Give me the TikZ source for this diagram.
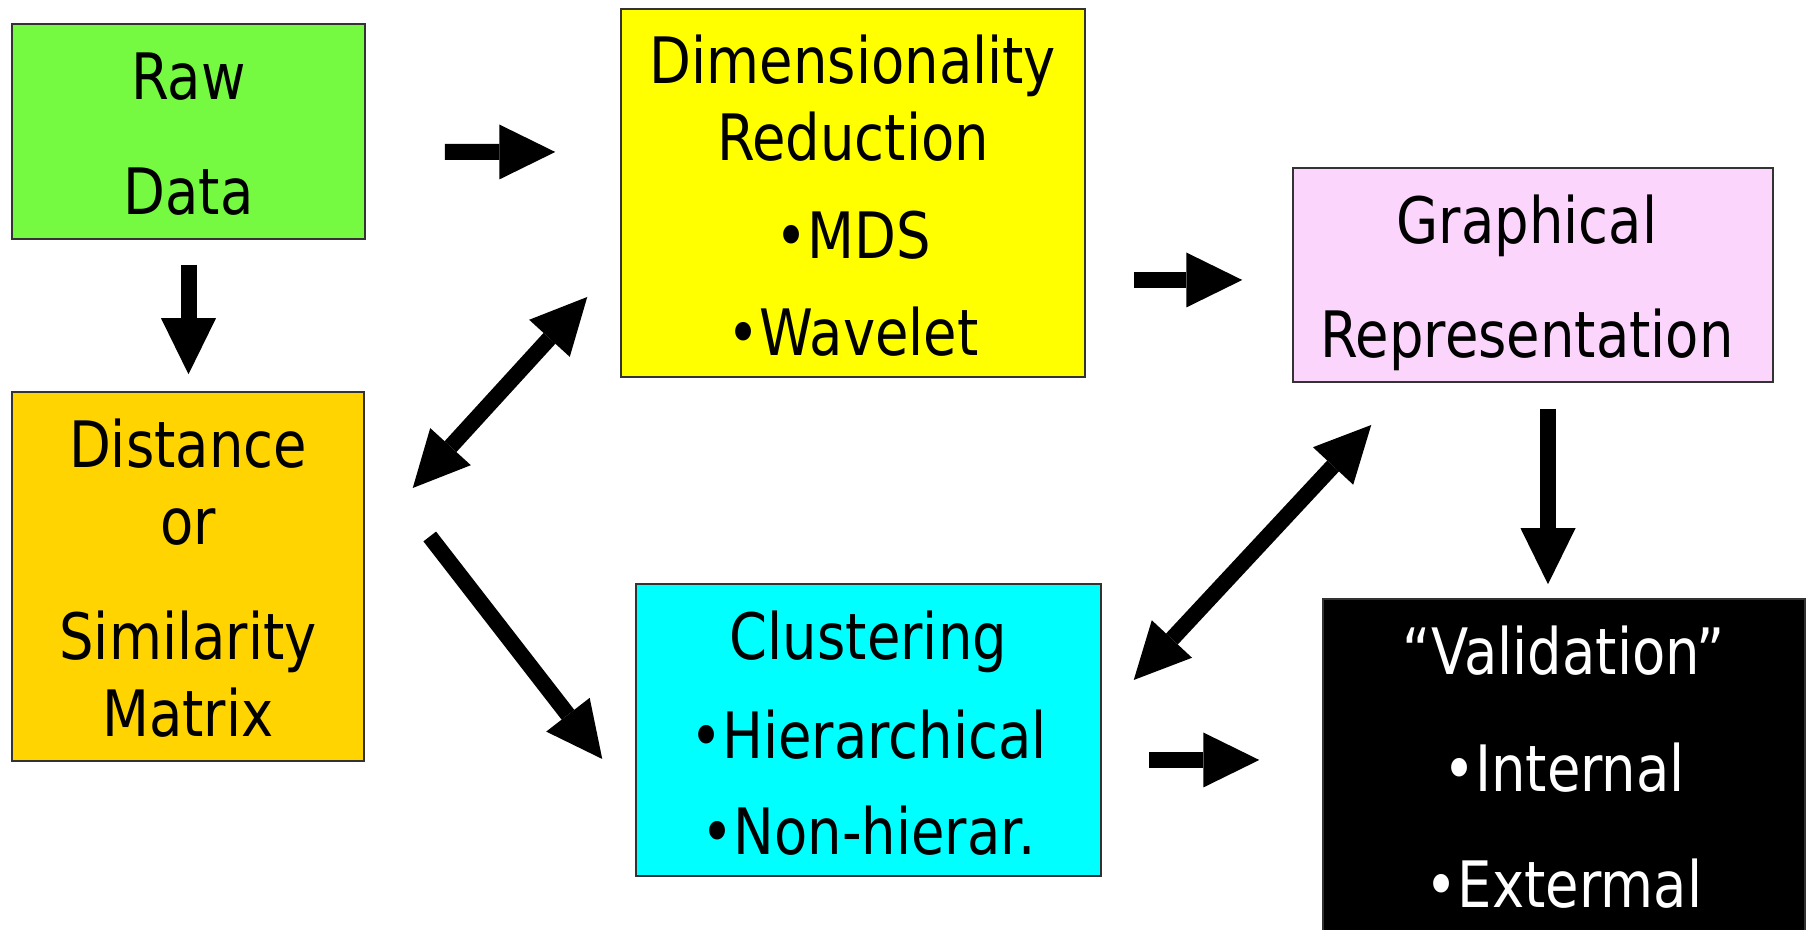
\documentclass[tikz,border=0pt]{standalone}
\usepackage{fontspec}
\setmainfont{DejaVu Sans}[FakeStretch=0.85]
\usetikzlibrary{arrows.meta}
\definecolor{rawgreen}{RGB}{117,250,65}
\definecolor{dimyellow}{RGB}{255,255,0}
\definecolor{distgold}{RGB}{255,212,0}
\definecolor{graphpink}{RGB}{252,213,252}
\definecolor{clustcyan}{RGB}{0,255,255}
\newcommand{\linetop}{\rule{0pt}{5.12mm}}

\begin{document}
\begin{tikzpicture}[x=0.1mm,y=-0.1mm,
    box/.style={draw=black!80,line width=0.15mm,rectangle,inner sep=0pt},
    txt/.style={anchor=north,align=center,inner sep=0pt,font=\fontsize{18.21pt}{21.91pt}\selectfont},
    onearrow/.style={line width=1.6mm,-{Triangle[length=5.6mm,width=5.5mm,line width=0pt]}},
    twoarrow/.style={line width=1.6mm,{Triangle[length=5.6mm,width=5.5mm,line width=0pt]}-{Triangle[length=5.6mm,width=5.5mm,line width=0pt]}}]
  \clip (0,0) rectangle (1807,930);
  \node[box,fill=rawgreen,minimum width=35.3mm,minimum height=21.5mm] (raw) at (188.5,131.5) {};
  \node[box,fill=dimyellow,minimum width=46.4mm,minimum height=36.8mm] (dim) at (853,193) {};
  \node[box,fill=graphpink,minimum width=48mm,minimum height=21.4mm] (graph) at (1533,275) {};
  \node[box,fill=distgold,minimum width=35.2mm,minimum height=36.9mm] (dist) at (188,576.5) {};
  \node[box,fill=clustcyan,minimum width=46.5mm,minimum height=29.2mm] (clust) at (868.5,730) {};
  \node[box,fill=black,minimum width=48.2mm,minimum height=33.8mm] (valid) at (1564,768) {};

  \node[txt] (rawtxt) at (188.5,47.8) {\linetop Raw\\[3.8mm]Data};
  \node[txt] (dimtxt) at (853,31.8) {\linetop Dimensionality\\Reduction\\[2.1mm]•MDS\\[2mm]•Wavelet};
  \node[txt] (graphtxt) at (1527,191.8) {\linetop Graphical\\[3.7mm]Representation};
  \node[txt] (disttxt) at (188,415.8) {\linetop Distance\\or\\[3.8mm]Similarity\\Matrix};
  \node[txt] (clusttxt) at (868.5,607.8) {\linetop Clustering\\[2.2mm]•Hierarchical\\[1.9mm]•Non-hierar.};
  \node[txt,text=white] (validtxt) at (1564,622.8) {\linetop “Validation”\\[4mm]•Internal\\[3.9mm]•Extermal};

  \draw[onearrow] ([shift={(0,25)}]raw.south) -- ([shift={(0.5,-17)}]dist.north);
  \draw[onearrow] ([shift={(79,20.5)}]raw.east) -- ([shift={(-65,-41)}]dim.west);
  \draw[twoarrow] ([shift={(48,-88.5)}]dist.east) -- ([shift={(-33,104)}]dim.west);
  \draw[onearrow] ([shift={(65,-40)}]dist.east) -- ([shift={(-33,29)}]clust.west);
  \draw[onearrow] ([shift={(48,87)}]dim.east) -- ([shift={(-50,5)}]graph.west);
  \draw[onearrow] ([shift={(15,26)}]graph.south) -- ([shift={(-16,-14)}]valid.north);
  \draw[twoarrow] ([shift={(32,-50)}]clust.east) -- ([shift={(79,150)}]graph.west);
  \draw[onearrow] ([shift={(47,30)}]clust.east) -- ([shift={(-63,-8)}]valid.west);
\end{tikzpicture}
\end{document}
